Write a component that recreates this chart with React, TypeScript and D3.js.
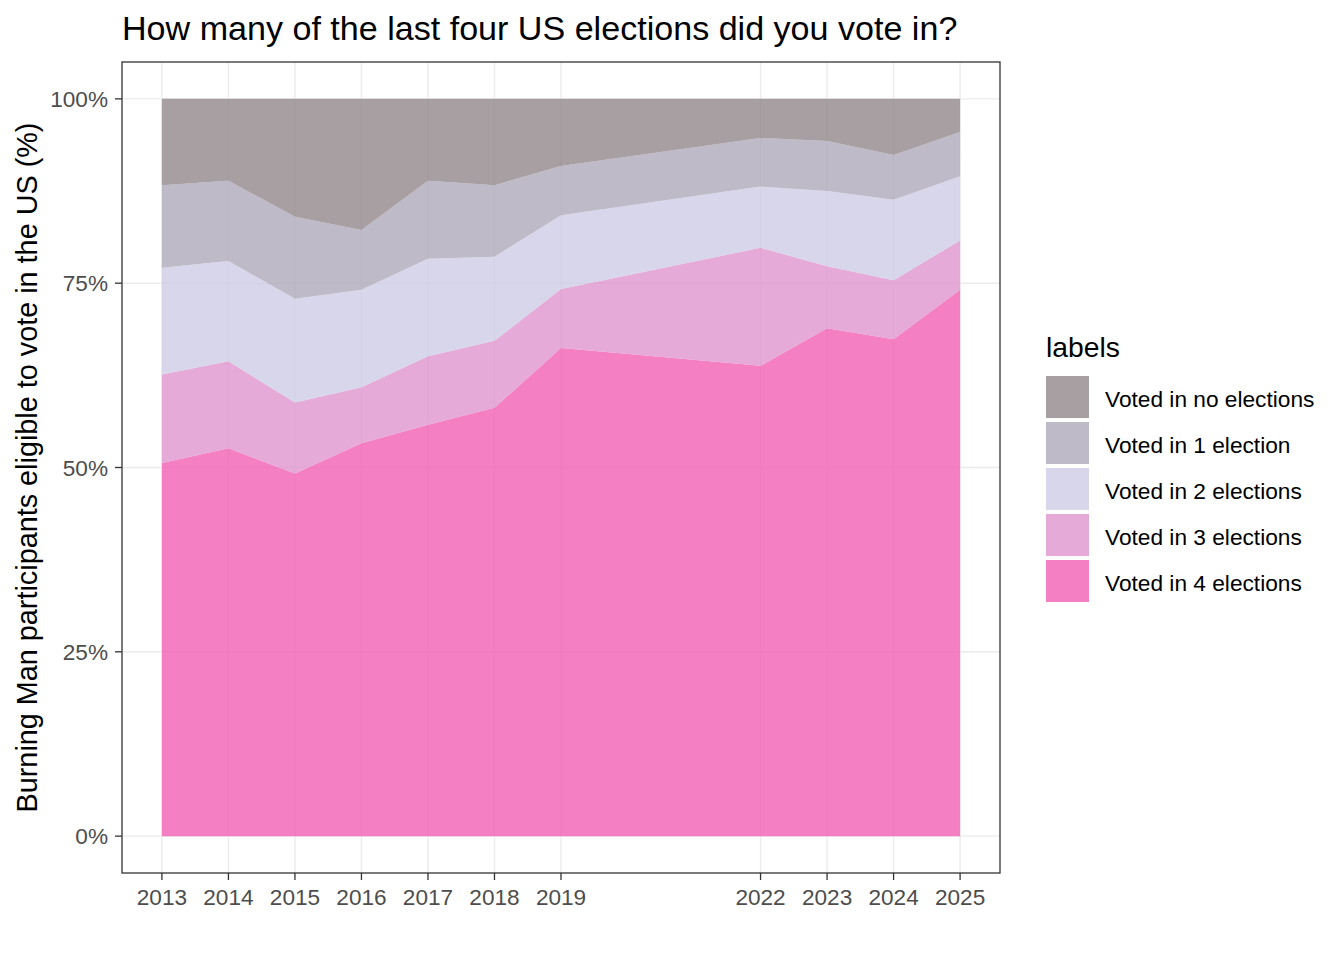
import * as d3 from "d3";

const years = [2013, 2014, 2015, 2016, 2017, 2018, 2019, 2022, 2023, 2024, 2025];
// share of respondents (%) per year, bottom to top of the stack
const voted4 = [50.6, 52.6, 49.2, 53.3, 55.8, 58.1, 66.2, 63.8, 68.9, 67.4, 74.1];
const voted3 = [12.0, 11.8, 9.6, 7.6, 9.3, 9.1, 8.0, 16.0, 8.4, 8.0, 6.7];
const voted2 = [14.5, 13.6, 14.1, 13.2, 13.2, 11.4, 10.0, 8.3, 10.2, 10.9, 8.7];
const voted1 = [11.2, 10.9, 11.1, 8.1, 10.6, 9.7, 6.7, 6.6, 6.8, 6.1, 6.0];
const voted0 = [11.7, 11.1, 16.0, 17.8, 11.1, 11.7, 9.1, 5.3, 5.7, 7.6, 4.5];

const legendLabels = [
  "Voted in no elections",
  "Voted in 1 election",
  "Voted in 2 elections",
  "Voted in 3 elections",
  "Voted in 4 elections",
];
const yTicks = [0, 0.25, 0.5, 0.75, 1];

const keys = ["v4", "v3", "v2", "v1", "v0"];
const colors: Record<string, string> = {
  v0: "#92878C",
  v1: "#AEA9BA",
  v2: "#CECCE6",
  v3: "#E095CE",
  v4: "#F15FB4",
};
const legendKeys = ["v0", "v1", "v2", "v3", "v4"];

const font = "'Liberation Sans', Arial, sans-serif";

export default function App() {
  const width = 1344;
  const height = 960;
  const panel = { left: 122, right: 1000, top: 62, bottom: 873 };

  const rows = years.map((yr, i) => ({
    year: yr,
    v4: voted4[i] / 100,
    v3: voted3[i] / 100,
    v2: voted2[i] / 100,
    v1: voted1[i] / 100,
    v0: voted0[i] / 100,
  }));

  const x = d3.scaleLinear().domain([2012.4, 2025.6]).range([panel.left, panel.right]);
  const y = d3.scaleLinear().domain([-0.05, 1.05]).range([panel.bottom, panel.top]);

  const series = d3.stack<any>().keys(keys)(rows);
  const area = d3
    .area<any>()
    .x((d) => x(d.data.year))
    .y0((d) => y(d[0]))
    .y1((d) => y(d[1]));

  const gridColor = "#EBEBEB";
  const axisColor = "#333333";

  return (
    <svg
      width={width}
      height={height}
      style={{ position: "absolute", left: 0, top: 0, background: "white" }}
      fontFamily={font}
    >
      <rect x={0} y={0} width={width} height={height} fill="white" />
      {/* grid */}
      {yTicks.map((t) => (
        <line key={"gy" + t} x1={panel.left} x2={panel.right} y1={y(t)} y2={y(t)} stroke={gridColor} strokeWidth={1.4} />
      ))}
      {years.map((t) => (
        <line key={"gx" + t} x1={x(t)} x2={x(t)} y1={panel.top} y2={panel.bottom} stroke={gridColor} strokeWidth={1.4} />
      ))}
      {/* stacked areas */}
      {series.map((s) => (
        <path key={s.key} d={area(s) || ""} fill={colors[s.key]} fillOpacity={0.8} />
      ))}
      <rect
        x={panel.left}
        y={panel.top}
        width={panel.right - panel.left}
        height={panel.bottom - panel.top}
        fill="none"
        stroke={axisColor}
        strokeWidth={1.3}
      />
      {/* y axis */}
      {yTicks.map((t) => (
        <g key={"ty" + t} transform={`translate(0,${y(t)})`}>
          <line x1={panel.left - 7} x2={panel.left} stroke={axisColor} strokeWidth={1.3} />
          <text x={108} y={8} textAnchor="end" fontSize={22.6} fill="#4D4D4D">
            {d3.format(".0%")(t)}
          </text>
        </g>
      ))}
      {/* x axis */}
      {years.map((t) => (
        <g key={"tx" + t} transform={`translate(${x(t)},0)`}>
          <line y1={panel.bottom} y2={panel.bottom + 7} stroke={axisColor} strokeWidth={1.3} />
          <text y={905} textAnchor="middle" fontSize={22.6} fill="#4D4D4D">
            {t}
          </text>
        </g>
      ))}
      <text
        transform={`translate(37,${(panel.top + panel.bottom) / 2}) rotate(-90)`}
        textAnchor="middle"
        fontSize={28.8}
        fill="black"
      >
        Burning Man participants eligible to vote in the US (%)
      </text>
      <text x={panel.left} y={40} fontSize={34.1} fill="black">
        How many of the last four US elections did you vote in?
      </text>
      {/* legend */}
      <text x={1046} y={357} fontSize={28.3} fill="black">
        labels
      </text>
      {legendKeys.map((k, i) => (
        <g key={"lg" + k} transform={`translate(1046,${376 + i * 46})`}>
          <rect width={43} height={42} fill={colors[k]} fillOpacity={0.8} />
          <text x={59} y={30.5} fontSize={22.7} fill="black">
            {legendLabels[i]}
          </text>
        </g>
      ))}
    </svg>
  );
}
